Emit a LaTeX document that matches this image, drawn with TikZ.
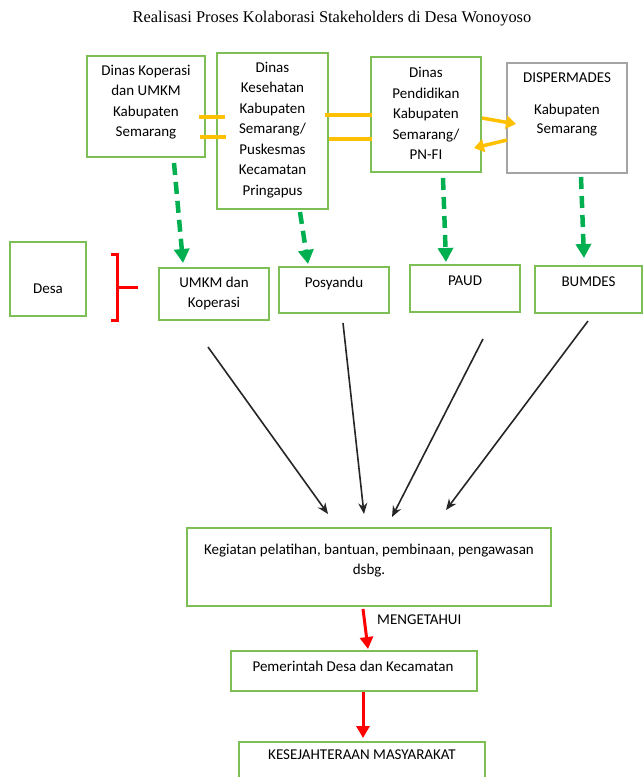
\documentclass[tikz,border=0pt]{standalone}
\usepackage{fontspec}
\setmainfont{Carlito}
\newfontfamily\titlefont{Liberation Serif}
\usetikzlibrary{arrows.meta}
\definecolor{boxgreen}{RGB}{125,190,85}
\definecolor{boxgray}{RGB}{165,165,165}
\definecolor{dgreen}{RGB}{0,176,80}
\definecolor{orng}{RGB}{255,192,0}
\definecolor{rd}{RGB}{255,0,0}
\tikzset{
  gbox/.style={draw=boxgreen,line width=2pt,fill=white,inner sep=0pt},
  graybox/.style={draw=boxgray,line width=2pt,fill=white,inner sep=0pt},
  txt/.style={inner sep=0pt,align=center,font=\fontsize{15}{20.5}\selectfont},
  gdash/.style={draw=dgreen,line width=4.5pt,dash pattern=on 12pt off 7pt,-{Triangle[length=14pt,width=15pt]}},
  oline/.style={draw=orng,line width=3.5pt},
  oarrow/.style={draw=orng,line width=3.5pt,-{Triangle[length=10pt,width=13pt]}},
  rarrow/.style={draw=rd,line width=3pt,-{Triangle[length=12pt,width=13pt]}},
  barrow/.style={draw=black!85,line width=1.6pt,-{Stealth[length=11pt,width=9pt]}},
}
\begin{document}
\begin{tikzpicture}[x=1pt,y=-1pt]
\useasboundingbox (0,0) rectangle (643,777);
\fill[white] (0,0) rectangle (643,777);
% title
\node[inner sep=0pt,font=\titlefont\fontsize{16.4}{18}\selectfont] (title) at (332,19) {Realisasi Proses Kolaborasi Stakeholders di Desa Wonoyoso};
% top boxes
\node[gbox,minimum width=118pt,minimum height=101pt] (b1) at (146,106.5) {};
\node[txt] (t1) at (146,102) {Dinas Koperasi\\dan UMKM\\Kabupaten\\Semarang};
\node[gbox,minimum width=111pt,minimum height=156pt] (b2) at (272.5,131) {};
\node[txt] (t2) at (272.5,130) {Dinas\\Kesehatan\\Kabupaten\\Semarang/\\Puskesmas\\Kecamatan\\Pringapus};
\node[gbox,minimum width=110pt,minimum height=115pt] (b3) at (426,114.5) {};
\node[txt] (t3) at (426,113.5) {Dinas\\Pendidikan\\Kabupaten\\Semarang/\\PN-FI};
\node[graybox,minimum width=120pt,minimum height=110pt] (b4) at (567,118) {};
\node[txt,font=\fontsize{15}{19.5}\selectfont] (t4) at (567,104.5) {DISPERMADES\\[12pt]Kabupaten\\Semarang};
% orange links
\coordinate (o1a) at (199,117); \coordinate (o1b) at (225,117);
\coordinate (o2a) at (200,137); \coordinate (o2b) at (226,137);
\coordinate (o3a) at (325,115); \coordinate (o3b) at (372,115);
\coordinate (o4a) at (329,139); \coordinate (o4b) at (372,139);
\draw[oline] (o1a) -- (o1b);
\draw[oline] (o2a) -- (o2b);
\draw[oline] (o3a) -- (o3b);
\draw[oline] (o4a) -- (o4b);
\coordinate (o5a) at (482,118); \coordinate (o5b) at (516,124);
\coordinate (o6a) at (507,140); \coordinate (o6b) at (474,148);
\draw[oarrow] (o5a) -- (o5b);
\draw[oarrow] (o6a) -- (o6b);
% second row
\node[gbox,minimum width=76pt,minimum height=74pt] (desa) at (48,279) {};
\node[txt] (tdesa) at (48,289) {Desa};
\node[gbox,minimum width=110pt,minimum height=52pt] (umkm) at (214,294) {};
\node[txt] (tumkm) at (214,293.5) {UMKM dan\\Koperasi};
\node[gbox,minimum width=110pt,minimum height=46pt] (pos) at (334,290) {};
\node[txt] (tpos) at (334,283) {Posyandu};
\node[gbox,minimum width=110pt,minimum height=47pt] (paud) at (465,288.5) {};
\node[txt] (tpaud) at (465,281) {PAUD};
\node[gbox,minimum width=107pt,minimum height=47pt] (bum) at (588.5,289.5) {};
\node[txt] (tbum) at (588.5,282) {BUMDES};
% red bracket
\coordinate (brt) at (111,254); \coordinate (brb) at (111,320); \coordinate (brm) at (138,287);
\draw[rd,line width=3pt] (brt) -- (117,254) -- (117,320) -- (brb);
\draw[rd,line width=3pt] (117,287) -- (brm);
% green dashed arrows
\coordinate (g1a) at (174,163); \coordinate (g1b) at (183,263);
\coordinate (g2a) at (300,212); \coordinate (g2b) at (308,264);
\coordinate (g3a) at (443,178); \coordinate (g3b) at (446,262);
\coordinate (g4a) at (581,177); \coordinate (g4b) at (584,258);
\draw[gdash] (g1a) -- (g1b);
\draw[gdash] (g2a) -- (g2b);
\draw[gdash] (g3a) -- (g3b);
\draw[gdash] (g4a) -- (g4b);
% kegiatan box
\node[gbox,minimum width=364pt,minimum height=78pt] (keg) at (369,567) {};
\node[txt] (tkeg) at (369,560.5) {Kegiatan pelatihan, bantuan, pembinaan, pengawasan\\dsbg.};
% black arrows
\coordinate (k1a) at (208,347); \coordinate (k1b) at (328,514);
\coordinate (k2a) at (343,323); \coordinate (k2b) at (364,514);
\coordinate (k3a) at (483,339); \coordinate (k3b) at (392,517);
\coordinate (k4a) at (588,321); \coordinate (k4b) at (446,510);
\draw[barrow] (k1a) -- (k1b);
\draw[barrow] (k2a) -- (k2b);
\draw[barrow] (k3a) -- (k3b);
\draw[barrow] (k4a) -- (k4b);
% lower chain
\node[gbox,minimum width=246pt,minimum height=40pt] (pem) at (354,671) {};
\node[txt] (tpem) at (353,666) {Pemerintah Desa dan Kecamatan};
\begin{scope}
\clip (0,0) rectangle (643,777);
\node[gbox,minimum width=246pt,minimum height=60pt] (kes) at (362,772) {};
\end{scope}
\node[txt] (tkes) at (362,755) {KESEJAHTERAAN MASYARAKAT};
\coordinate (r1a) at (363,609); \coordinate (r1b) at (368,649);
\draw[rarrow] (r1a) -- (r1b);
\node[txt,anchor=west] (meng) at (377,620) {MENGETAHUI};
\coordinate (r2a) at (363,692); \coordinate (r2b) at (363,738);
\draw[rarrow] (r2a) -- (r2b);
\end{tikzpicture}
\end{document}
